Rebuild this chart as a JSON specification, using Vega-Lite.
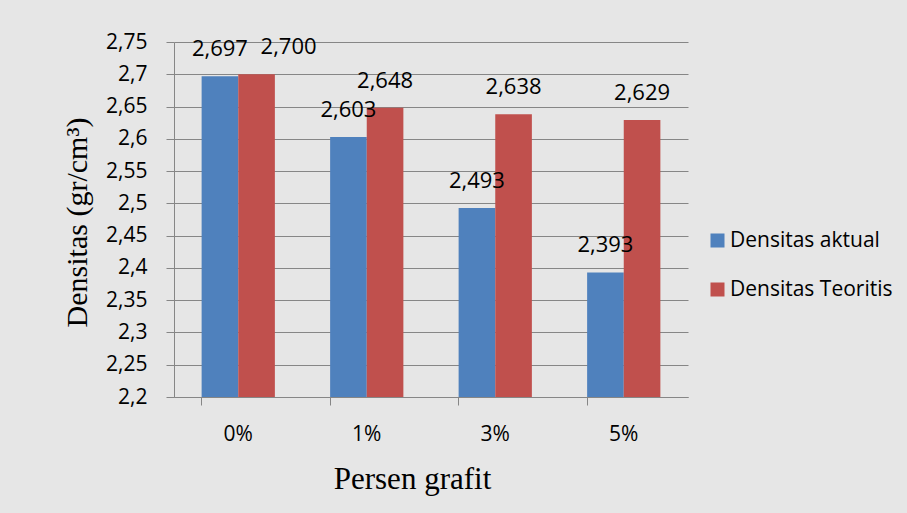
{
  "$schema": "https://vega.github.io/schema/vega-lite/v6.json",
  "autosize": "none",
  "width": 514,
  "height": 355,
  "padding": {"left": 174, "top": 42, "right": 219, "bottom": 116},
  "background": "#e6e6e6",
  "data": {
    "values": [
      {"persen": "0%", "series": "Densitas aktual", "densitas": 2.697},
      {"persen": "0%", "series": "Densitas Teoritis", "densitas": 2.700},
      {"persen": "1%", "series": "Densitas aktual", "densitas": 2.603},
      {"persen": "1%", "series": "Densitas Teoritis", "densitas": 2.648},
      {"persen": "3%", "series": "Densitas aktual", "densitas": 2.493},
      {"persen": "3%", "series": "Densitas Teoritis", "densitas": 2.638},
      {"persen": "5%", "series": "Densitas aktual", "densitas": 2.393},
      {"persen": "5%", "series": "Densitas Teoritis", "densitas": 2.629}
    ]
  },
  "transform": [
    {"calculate": "replace(format(datum.densitas, '.3f'), '.', ',')", "as": "label"}
  ],
  "encoding": {
    "x": {
      "field": "persen",
      "type": "nominal",
      "sort": ["0%", "1%", "3%", "5%"],
      "scale": {"paddingInner": 0.43, "paddingOuter": 0.215},
      "axis": {
        "title": "Persen grafit",
        "titleFont": "Liberation Serif",
        "titleFontSize": 31,
        "titleFontWeight": "normal",
        "titleColor": "#000000",
        "titleX": 238,
        "titleY": 91,
        "titleBaseline": "alphabetic",
        "labelAngle": 0,
        "labelFont": "Open Sans",
        "labelFontSize": 21,
        "labelColor": "#000000",
        "labelBaseline": "alphabetic",
        "labelPadding": 35,
        "bandPosition": 0,
        "tickSize": 8,
        "tickColor": "#868686",
        "domainColor": "#868686",
        "grid": false
      }
    },
    "xOffset": {
      "field": "series",
      "type": "nominal",
      "sort": ["Densitas aktual", "Densitas Teoritis"],
      "scale": {"paddingInner": 0, "paddingOuter": 0}
    },
    "y": {
      "field": "densitas",
      "type": "quantitative",
      "scale": {"domain": [2.2, 2.75], "zero": false, "nice": false},
      "axis": {
        "title": "Densitas (gr/cm³)",
        "titleFont": "Liberation Serif",
        "titleFontSize": 30,
        "titleFontWeight": "normal",
        "titleColor": "#000000",
        "titleAngle": -90,
        "titleAlign": "center",
        "titleBaseline": "alphabetic",
        "titleX": -88,
        "titleY": 180,
        "values": [2.2, 2.25, 2.3, 2.35, 2.4, 2.45, 2.5, 2.55, 2.6, 2.65, 2.7, 2.75],
        "labelExpr": "replace(format(datum.value, '.2~f'), '.', ',')",
        "labelFont": "Open Sans",
        "labelFontSize": 21,
        "labelColor": "#000000",
        "labelPadding": 19,
        "tickSize": 8,
        "tickColor": "#868686",
        "domainColor": "#868686",
        "gridColor": "#868686",
        "gridWidth": 1
      }
    }
  },
  "layer": [
    {
      "mark": {"type": "bar"},
      "encoding": {
        "y2": {"datum": 2.2},
        "color": {
          "field": "series",
          "type": "nominal",
          "sort": ["Densitas aktual", "Densitas Teoritis"],
          "scale": {"range": ["#4F81BD", "#C0504D"]},
          "legend": {
            "title": null,
            "orient": "none",
            "legendX": 533,
            "legendY": 188,
            "padding": 0,
            "symbolType": "square",
            "symbolSize": 196,
            "symbolStrokeWidth": 0,
            "labelFont": "Open Sans",
            "labelFontSize": 21,
            "labelColor": "#000000",
            "labelOffset": 2,
            "labelLimit": 300,
            "rowPadding": 27
          }
        }
      }
    },
    {
      "mark": {
        "type": "text",
        "font": "Open Sans",
        "fontSize": 22,
        "color": "#000000",
        "baseline": "alphabetic",
        "dy": -20,
        "dx": {"expr": "datum.persen === '0%' && datum.series === 'Densitas Teoritis' ? 32 : 0"}
      },
      "encoding": {
        "text": {"field": "label", "type": "nominal"}
      }
    }
  ],
  "config": {
    "view": {"stroke": null}
  }
}
